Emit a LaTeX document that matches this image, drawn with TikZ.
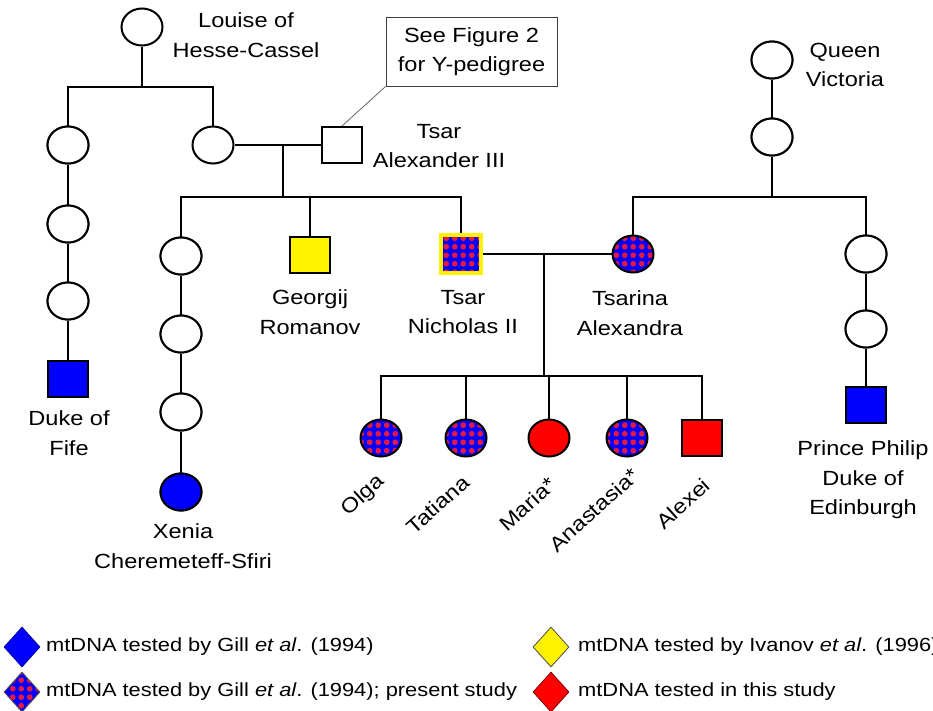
\documentclass[tikz,border=0pt]{standalone}
\usepackage{fontspec}
\setmainfont{Liberation Sans}[FakeStretch=1.15]
\usetikzlibrary{shapes.geometric,patterns}
\pgfdeclarepatternformonly{rdots}{\pgfpoint{-1pt}{-1pt}}{\pgfpoint{9.5pt}{9.5pt}}{\pgfpoint{8.5pt}{8.5pt}}{\pgfpathcircle{\pgfpoint{4.25pt}{4.25pt}}{2.9pt}\pgfusepath{fill}}
\definecolor{dotred}{RGB}{225,25,70}
\begin{document}
\begin{tikzpicture}[x=1pt,y=-1pt,
  fem/.style={ellipse, draw, line width=2pt, minimum width=41pt, minimum height=37pt, inner sep=0pt},
  mal/.style={rectangle, draw, line width=2pt, minimum width=40pt, minimum height=36pt, inner sep=0pt},
  wht/.style={fill=white},
  chk/.style={preaction={fill=blue}, pattern=rdots, pattern color=dotred},
  ln/.style={line width=2pt},
  lab/.style={font=\fontsize{20.5}{29.5}\selectfont, align=center, inner sep=0pt},
  rlab/.style={font=\fontsize{20.5}{24}\selectfont, anchor=east, rotate=42, inner sep=0pt},
  leg/.style={font=\fontsize{19}{22}\selectfont, anchor=west, inner sep=0pt},
  dia/.style={diamond, draw=black!70, line width=0.8pt, minimum width=36pt, minimum height=40pt, inner sep=0pt}]
\useasboundingbox[fill=white] (0,0) rectangle (933,710);

% persons
\node[fem,wht] (louise) at (142,27) {};
\node[fem,wht] (d1) at (68,145) {};
\node[fem,wht] (d2) at (68,224) {};
\node[fem,wht] (d3) at (68,301) {};
\node[mal,fill=blue] (fife) at (68,379) {};
\node[fem,wht] (dagmar) at (213,145) {};
\node[mal,wht] (alex) at (342,145) {};
\node[fem,wht] (x1) at (181,256) {};
\node[fem,wht] (x2) at (181,334) {};
\node[fem,wht] (x3) at (181,412) {};
\node[fem,fill=blue] (xenia) at (181,492) {};
\node[mal,fill=yellow] (georgij) at (310,255) {};
\node[rectangle, draw=yellow, line width=4pt, minimum width=40pt, minimum height=38pt, inner sep=0pt, chk] (nicholas) at (461,254) {};
\node[fem,chk] (tsarina) at (633,254) {};
\node[fem,wht] (victoria) at (772,60) {};
\node[fem,wht] (v2) at (772,137) {};
\node[fem,wht] (p1) at (866,254) {};
\node[fem,wht] (p2) at (866,329) {};
\node[mal,fill=blue] (philip) at (866,405) {};
\node[fem,chk] (olga) at (381,438) {};
\node[fem,chk] (tatiana) at (466,438) {};
\node[fem,fill=red] (maria) at (549,438) {};
\node[fem,chk] (anastasia) at (627,438) {};
\node[mal,fill=red] (alexei) at (702,438) {};

% junction coordinates
\coordinate (lbar) at (142,87);
\coordinate (m1) at (283,145);
\coordinate (c1bar) at (283,197);
\coordinate (m2) at (544,254);
\coordinate (c2bar) at (544,376);
\coordinate (vbar) at (772,197);

% connectors
\draw[ln] (louise.south) -- (lbar);
\draw[ln] (d1.north) |- (lbar) -| (dagmar.north);
\draw[ln] (d1) -- (d2) -- (d3) -- (fife);
\draw[ln] (dagmar.east) -- (alex.west);
\draw[ln] (m1) -- (c1bar);
\draw[ln] (x1.north) |- (c1bar) -| (nicholas.north);
\draw[ln] (georgij.north) -- (georgij.north |- c1bar);
\draw[ln] (x1) -- (x2) -- (x3) -- (xenia);
\draw[ln] (nicholas.east) -- (tsarina.west);
\draw[ln] (m2) -- (c2bar);
\draw[ln] (olga.north) |- (c2bar) -| (alexei.north);
\draw[ln] (tatiana.north) -- (tatiana.north |- c2bar);
\draw[ln] (maria.north) -- (maria.north |- c2bar);
\draw[ln] (anastasia.north) -- (anastasia.north |- c2bar);
\draw[ln] (victoria) -- (v2) -- (vbar);
\draw[ln] (tsarina.north) |- (vbar) -| (p1.north);
\draw[ln] (p1) -- (p2) -- (philip);

% redraw nodes on top of lines
\foreach \n in {d1,d2,d3,x1,x2,x3,v2,p1,p2,victoria} {\node[fem,wht] at (\n) {};}
\node[mal,fill=blue] at (fife) {};
\node[mal,fill=blue] at (philip) {};
\node[fem,fill=blue] at (xenia) {};

% note box
\node[lab, draw=black!75, line width=0.8pt, minimum width=171pt, minimum height=69pt] (see) at (471.5,51.5) {See Figure 2\\for Y-pedigree};
\draw[black!60, line width=0.8pt] (see.south west) -- (alex.north);

% labels
\node[lab] (llouise) at (246,35) {Louise of\\Hesse-Cassel};
\node[lab] (lalex) at (439,146) {Tsar\\Alexander III};
\node[lab] (lvic) at (845,65) {Queen\\Victoria};
\node[lab] (lfife) at (69,433) {Duke of\\Fife};
\node[lab] (lxenia) at (183,546) {Xenia\\Cheremeteff-Sfiri};
\node[lab] (lgeorgij) at (310,312) {Georgij\\Romanov};
\node[lab] (lnich) at (463,312) {Tsar\\Nicholas II};
\node[lab] (ltsarina) at (630,313) {Tsarina\\Alexandra};
\node[lab] (lphilip) at (863,480) {Prince Philip\\Duke of\\Edinburgh};

\node[rlab] at (382,479) {Olga};
\node[rlab] at (466,479) {Tatiana};
\node[rlab] at (553,481) {Maria*};
\node[rlab] at (636,472) {Anastasia*};
\node[rlab] at (707,482) {Alexei};

% legend
\node[dia, fill=blue, draw=blue!60!black] (lg1) at (22,647) {};
\node[leg] (lt1) at (46,647) {mtDNA tested by Gill \textit{et al}. (1994)};
\node[dia, chk] (lg2) at (22,692) {};
\node[leg] (lt2) at (46,692) {mtDNA tested by Gill \textit{et al}. (1994); present study};
\node[dia, fill=yellow] (lg3) at (551,647) {};
\node[leg] (lt3) at (578,647) {mtDNA tested by Ivanov \textit{et al}. (1996)};
\node[dia, fill=red, draw=red!50!black] (lg4) at (551,692) {};
\node[leg] (lt4) at (578,692) {mtDNA tested in this study};
\end{tikzpicture}
\end{document}
